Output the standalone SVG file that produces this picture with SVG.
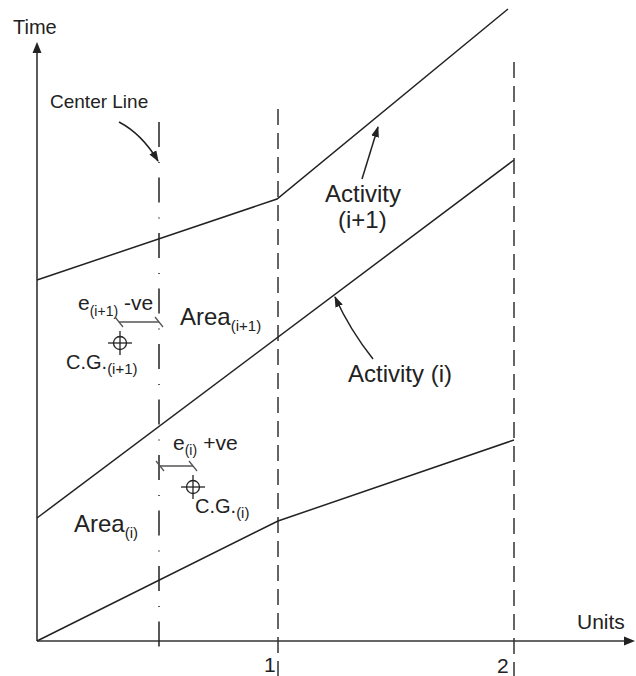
<svg xmlns="http://www.w3.org/2000/svg" width="636" height="676" viewBox="0 0 636 676">
<style>
text{font-family:"Liberation Sans",Arial,sans-serif;fill:#222}
.ln{stroke:#222;stroke-width:1.5;fill:none}
.ax{stroke:#333;stroke-width:1.6;fill:none}
.dash{stroke:#333;stroke-width:1.5;fill:none;stroke-dasharray:16 8}
.cl{stroke:#222;stroke-width:1.5;fill:none;stroke-dasharray:25 15 1 14.5}
.dim{stroke:#555;stroke-width:1.3;fill:none}
.cg{stroke:#222;stroke-width:1.3;fill:none}
</style>
<defs>
<marker id="ah" markerWidth="11" markerHeight="8" refX="10" refY="4" orient="auto" markerUnits="userSpaceOnUse">
<path d="M0,0 L11,4 L0,8 z" fill="#222"/>
</marker>
</defs>
<g id="axes">
<line class="ax" x1="37" y1="641" x2="37" y2="50"/>
<path d="M37,42 L32.5,53 L41.5,53 z" fill="#222"/>
<line class="ax" x1="37" y1="641" x2="626" y2="641"/>
<path d="M635,641 L624,636.5 L624,645.5 z" fill="#222"/>
<text x="13" y="34" font-size="20">Time</text>
<text x="577" y="629" font-size="21">Units</text>
<text x="264" y="672" font-size="21">1</text>
<text x="497" y="673" font-size="21">2</text>
</g>
<g id="gridlines">
<line class="dash" x1="278" y1="109" x2="278" y2="676"/>
<line class="dash" x1="514" y1="62" x2="514" y2="676"/>
</g>
<g id="center-line">
<line class="cl" x1="159" y1="122" x2="159" y2="648"/>
<text x="50" y="108" font-size="19">Center Line</text>
</g>
<g id="activity-lines">
<polyline id="activity-i1" class="ln" points="37,280 277,199 508,9"/>
<polyline id="activity-i" class="ln" points="37,518 514,160"/>
<polyline id="activity-lower" class="ln" points="37,641 278,521 514,440"/>
</g>
<g id="connectors">
<path class="ln" d="M119,122 Q142,134 158,161" marker-end="url(#ah)"/>
<path class="ln" d="M362,179 L378,127" marker-end="url(#ah)"/>
<path class="ln" d="M373,359 Q350,330 335,297" marker-end="url(#ah)"/>
</g>
<g id="label-activity-i1">
<text x="325" y="202" font-size="24">Activity</text>
<text x="338" y="228" font-size="24">(i+1)</text>
</g>
<g id="label-activity-i">
<text x="348" y="382" font-size="24">Activity (i)</text>
</g>
<g id="area-i1">
<text x="180" y="325" font-size="24">Area<tspan font-size="15" dy="6">(i+1)</tspan></text>
</g>
<g id="area-i">
<text x="74" y="532" font-size="24">Area<tspan font-size="15" dy="6">(i)</tspan></text>
</g>
<g id="ecc-i1">
<text x="78" y="310" font-size="21">e<tspan font-size="14" dy="6">(i+1)</tspan><tspan dy="-6" dx="6">-ve</tspan></text>
<line class="dim" x1="119" y1="322" x2="159" y2="322"/>
<line class="dim" x1="115" y1="317" x2="123" y2="327"/>
<line class="dim" x1="155" y1="317" x2="163" y2="327"/>
</g>
<g id="cg-i1">
<circle class="cg" cx="120" cy="343" r="6.5"/>
<line class="cg" x1="120" y1="331" x2="120" y2="355"/>
<line class="cg" x1="108" y1="343" x2="132" y2="343"/>
<text x="66" y="369" font-size="20">C.G.<tspan font-size="15" dy="5">(i+1)</tspan></text>
</g>
<g id="ecc-i">
<text x="173" y="450" font-size="21">e<tspan font-size="14" dy="5">(i)</tspan><tspan dy="-5" dx="6">+ve</tspan></text>
<line class="dim" x1="159" y1="466" x2="193" y2="466"/>
<line class="dim" x1="156" y1="461" x2="164" y2="471"/>
<line class="dim" x1="189" y1="461" x2="197" y2="471"/>
</g>
<g id="cg-i">
<circle class="cg" cx="193" cy="487" r="6.5"/>
<line class="cg" x1="193" y1="475" x2="193" y2="499"/>
<line class="cg" x1="181" y1="487" x2="205" y2="487"/>
<text x="195" y="513" font-size="20">C.G.<tspan font-size="15" dy="5">(i)</tspan></text>
</g>
</svg>
